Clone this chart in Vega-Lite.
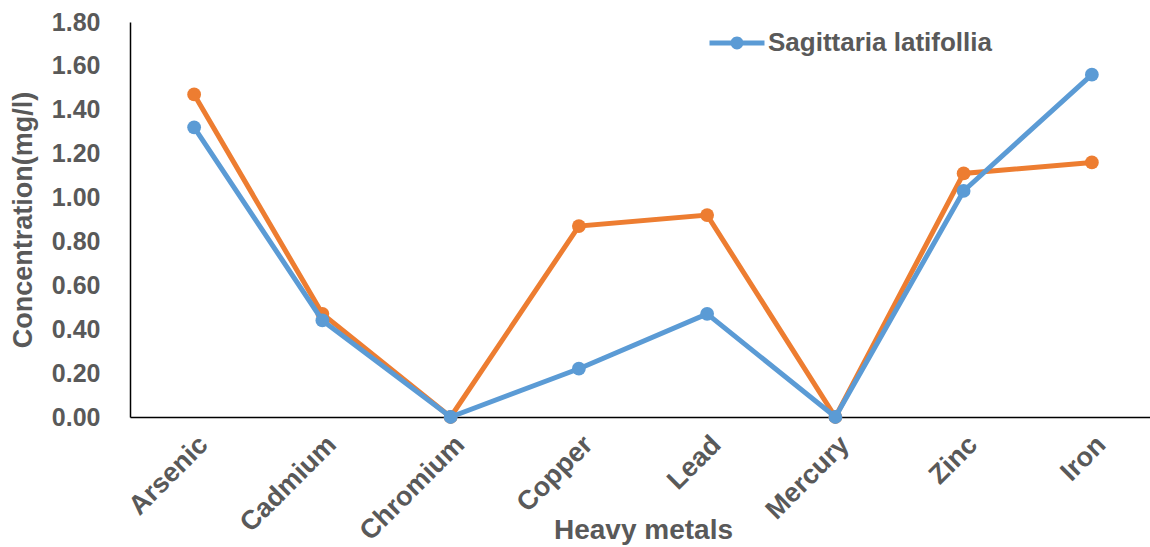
{
  "$schema": "https://vega.github.io/schema/vega-lite/v6.json",
  "autosize": {"type": "none"},
  "width": 1026,
  "height": 395,
  "padding": {"left": 130, "top": 22, "right": 0, "bottom": 130},
  "background": "white",
  "config": {
    "view": {"stroke": null},
    "font": "Liberation Sans",
    "axis": {"grid": false, "ticks": false, "labelColor": "#595959", "titleColor": "#595959", "labelFont": "Liberation Sans", "titleFont": "Liberation Sans", "labelFontWeight": "bold", "titleFontWeight": "bold", "domainColor": "#000000", "domainWidth": 1.5}
  },
  "data": {
    "values": [
      {"metal": "Arsenic", "series": "Sagittaria latifollia", "value": 1.32},
      {"metal": "Cadmium", "series": "Sagittaria latifollia", "value": 0.44},
      {"metal": "Chromium", "series": "Sagittaria latifollia", "value": 0.0},
      {"metal": "Copper", "series": "Sagittaria latifollia", "value": 0.22},
      {"metal": "Lead", "series": "Sagittaria latifollia", "value": 0.47},
      {"metal": "Mercury", "series": "Sagittaria latifollia", "value": 0.0},
      {"metal": "Zinc", "series": "Sagittaria latifollia", "value": 1.03},
      {"metal": "Iron", "series": "Sagittaria latifollia", "value": 1.56},
      {"metal": "Arsenic", "series": "Other", "value": 1.47},
      {"metal": "Cadmium", "series": "Other", "value": 0.47},
      {"metal": "Chromium", "series": "Other", "value": 0.0},
      {"metal": "Copper", "series": "Other", "value": 0.87},
      {"metal": "Lead", "series": "Other", "value": 0.92},
      {"metal": "Mercury", "series": "Other", "value": 0.0},
      {"metal": "Zinc", "series": "Other", "value": 1.11},
      {"metal": "Iron", "series": "Other", "value": 1.16}
    ]
  },
  "encoding": {
    "x": {"field": "metal", "type": "nominal", "sort": null, "scale": {"paddingInner": 0, "paddingOuter": 0.5},
      "axis": {"title": "Heavy metals", "labelAngle": -45, "labelFontSize": 27, "titleFontSize": 28, "labelPadding": 14, "titleY": 99, "titleBaseline": "top"}},
    "y": {"field": "value", "type": "quantitative", "scale": {"domain": [0, 1.8]},
      "axis": {"title": "Concentration(mg/l)", "values": [0, 0.2, 0.4, 0.6, 0.8, 1.0, 1.2, 1.4, 1.6, 1.8], "format": ".2f", "labelFontSize": 25, "titleFontSize": 27, "labelPadding": 30, "titlePadding": 14, "domain": true}}
  },
  "layer": [
    {
      "transform": [{"filter": "datum.series === 'Other'"}],
      "mark": {"type": "line", "color": "#ED7D31", "strokeWidth": 5, "point": {"filled": true, "size": 190, "color": "#ED7D31"}},
      "encoding": {}
    },
    {
      "transform": [{"filter": "datum.series === 'Sagittaria latifollia'"}],
      "mark": {"type": "line", "strokeWidth": 5, "point": {"filled": true, "size": 190}},
      "encoding": {
        "color": {"field": "series", "type": "nominal", "scale": {"range": ["#5B9BD5"]},
          "legend": {"title": null, "orient": "none", "legendX": 593, "legendY": 7, "labelFontSize": 26, "labelFontWeight": "bold", "labelColor": "#595959", "labelFont": "Liberation Sans", "labelLimit": 400,
            "symbolType": "M -2 -0.18 L 2 -0.18 L 2 0.18 L -2 0.18 Z M 0.47 0 A 0.47 0.47 0 1 1 -0.47 0 A 0.47 0.47 0 1 1 0.47 0 Z", "symbolSize": 756, "symbolStrokeWidth": 0, "symbolFillColor": "#5B9BD5", "labelOffset": 17}}
      }
    }
  ]
}
